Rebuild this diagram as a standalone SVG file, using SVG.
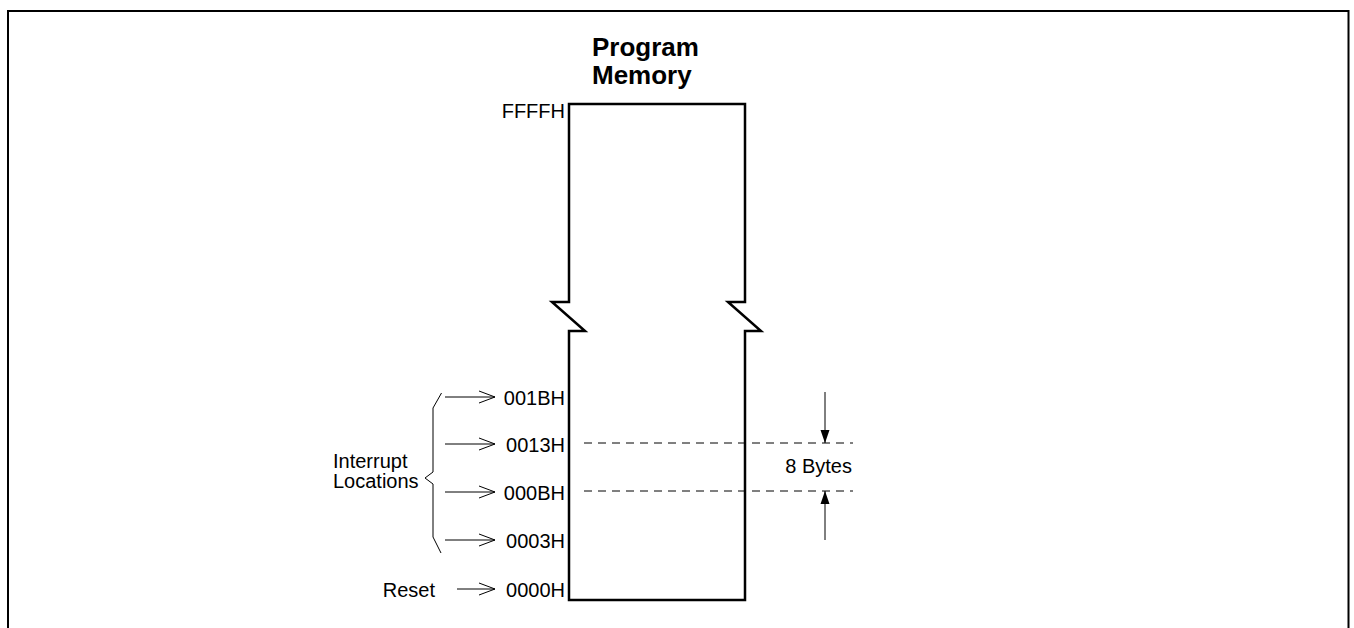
<svg xmlns="http://www.w3.org/2000/svg" width="1354" height="628" viewBox="0 0 1354 628">
<style>
.t{font-family:"Liberation Sans",Arial,sans-serif;font-size:20px;fill:#000}
.b{font-family:"Liberation Sans",Arial,sans-serif;font-size:26px;font-weight:bold;fill:#000}
.thin{fill:none;stroke:#000;stroke-width:1}
.dash{fill:none;stroke:#000;stroke-width:1;stroke-dasharray:8 6}
</style>
<defs>
<marker id="open" markerWidth="18" markerHeight="14" refX="16" refY="7" orient="auto" markerUnits="userSpaceOnUse">
<path d="M0,1 L16,7 L0,13" fill="none" stroke="#000" stroke-width="1"/>
</marker>
<marker id="solid" markerWidth="14" markerHeight="10" refX="13" refY="5" orient="auto" markerUnits="userSpaceOnUse">
<path d="M0,0.5 L13,5 L0,9.5 Z" fill="#000"/>
</marker>
</defs>
<path id="frame" d="M8,628 V11 H1348.5 V628" fill="none" stroke="#000" stroke-width="2"/>
<g id="title">
<text class="b" x="592" y="56">Program</text>
<text class="b" x="592" y="84">Memory</text>
</g>
<g id="memory">
<path d="M569,600 V331 H585 L552,302 H569 V104 H745 V302 H728 L761,331 H745 V600 Z" fill="none" stroke="#000" stroke-width="2.5" stroke-linejoin="miter"/>
<text class="t" x="565" y="118" text-anchor="end">FFFFH</text>
</g>
<g id="addresses">
<text class="t" x="565" y="405" text-anchor="end">001BH</text>
<text class="t" x="565" y="452" text-anchor="end">0013H</text>
<text class="t" x="565" y="500" text-anchor="end">000BH</text>
<text class="t" x="565" y="548" text-anchor="end">0003H</text>
<text class="t" x="565" y="597" text-anchor="end">0000H</text>
</g>
<g id="interrupt">
<text class="t" x="333" y="468">Interrupt</text>
<text class="t" x="333" y="488">Locations</text>
<path class="thin" d="M441.5,393 L433,408 V472 L425,478 L433,484 V537 L441,553"/>
</g>
<g id="reset">
<text class="t" x="435" y="597" text-anchor="end">Reset</text>
</g>
<g id="bytes">
<text class="t" x="852" y="473" text-anchor="end">8 Bytes</text>
</g>
<g id="connectors">
<line class="thin" x1="445" y1="397" x2="495" y2="397" marker-end="url(#open)"/>
<line class="thin" x1="445" y1="444" x2="495" y2="444" marker-end="url(#open)"/>
<line class="thin" x1="445" y1="492" x2="495" y2="492" marker-end="url(#open)"/>
<line class="thin" x1="445" y1="540" x2="495" y2="540" marker-end="url(#open)"/>
<line class="thin" x1="457" y1="589" x2="495" y2="589" marker-end="url(#open)"/>
<line class="dash" x1="584" y1="443" x2="853" y2="443"/>
<line class="dash" x1="584" y1="491" x2="853" y2="491"/>
<line class="thin" x1="825" y1="392" x2="825" y2="443" marker-end="url(#solid)"/>
<line class="thin" x1="825" y1="540" x2="825" y2="491" marker-end="url(#solid)"/>
</g>
</svg>
